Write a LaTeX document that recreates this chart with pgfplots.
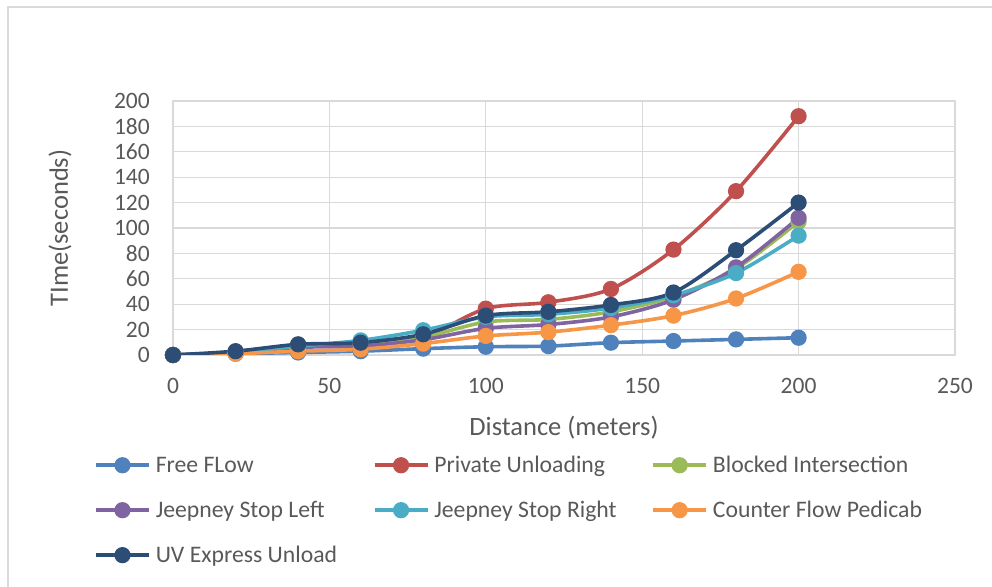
\documentclass[border=0pt]{standalone}
\usepackage{pgfplots}
\usepackage{pgfplotstable}
\pgfplotsset{compat=1.18}
\usepackage{fontspec}
\setmainfont{Carlito}

\definecolor{ffblue}{HTML}{4F81BD}
\definecolor{pured}{HTML}{C0504D}
\definecolor{bigreen}{HTML}{9BBB59}
\definecolor{jlpurple}{HTML}{8064A2}
\definecolor{jrcyan}{HTML}{4BACC6}
\definecolor{cforange}{HTML}{F79646}
\definecolor{uvnavy}{HTML}{2C4D75}
\definecolor{gridgray}{HTML}{D9D9D9}
\definecolor{textgray}{HTML}{595959}

% fixed-width legend entries keep the three columns evenly spaced
\newcommand\lentry[1]{\makebox[212pt][l]{#1}}

% travel time (s) against distance (m) for each traffic scenario
\pgfplotstableread{
x    ff    pu     bi    jl    jr    cf    uv
0    0     0      0     0     0     0     0
20   1     2      2     2     2     1     3
40   2     8      7     6     7     3     8.4
60   3     9      8     7     11.5  4.5   9.7
80   5     14     14    12    19.5  9     16.3
100  6.5   36.5   26    21    30    15    31
120  7     41.5   28    24    32    18    34
140  9.7   52     34    30    37    23.5  39.4
160  11    83     46    43.5  47    31    49.2
180  12.3  129    68    69    64.5  44.5  82.5
200  13.6  188    105   108   94    65.5  120
}\timetable

\begin{document}
\begin{tikzpicture}
\path[use as bounding box] (0pt,0pt) rectangle (992pt,586pt);
\draw[gridgray, line width=1.5pt] (8pt,-2pt) -- (8pt,579pt) -- (994pt,579pt);
\begin{axis}[
  at={(173pt,231pt)}, anchor=south west,
  scale only axis, width=782pt, height=254pt,
  xmin=0, xmax=250, ymin=0, ymax=200,
  xtick={0,50,...,250}, ytick={0,20,...,200},
  major tick length=0pt,
  grid=major,
  major grid style={draw=gridgray, line width=1.3pt},
  axis line style={draw=gridgray, line width=1.3pt},
  /pgf/number format/assume math mode=true,
  tick label style={font=\fontsize{23.5}{27}\selectfont, text=textgray},
  yticklabel style={anchor=east, inner sep=0pt, xshift=-23pt},
  xticklabel style={anchor=north, inner sep=0pt, yshift=-23pt},
  xlabel={Distance (meters)}, ylabel={TIme(seconds)},
  label style={font=\fontsize{26.5}{30}\selectfont, text=textgray},
  xlabel style={at={(axis description cs:0.5,-0.287)}, anchor=center},
  ylabel style={at={(axis description cs:-0.1445,0.5)}, anchor=center},
  legend columns=3,
  legend style={at={(axis description cs:-0.1049,-0.39)}, anchor=north west,
    draw=none, fill=none, font=\fontsize{23.7}{27}\selectfont, text=textgray,
    column sep=0pt, row sep=27pt,
    nodes={inner xsep=5pt, inner ysep=0pt}},
  legend image code/.code={\draw[#1, mark repeat=2, mark phase=2]
    plot coordinates {(0pt,0pt) (26.5pt,0pt) (53pt,0pt)};},
  every axis plot/.append style={line width=3.6pt, smooth, tension=0.5,
    mark=*, mark size=6.3pt, mark options={solid, line width=1pt}},
]
\addplot[ffblue, mark options={fill=ffblue}] table[x=x, y=ff] {\timetable};
\addlegendentry{\lentry{Free FLow}}
\addplot[pured, mark options={fill=pured}] table[x=x, y=pu] {\timetable};
\addlegendentry{\lentry{Private Unloading}}
\addplot[bigreen, mark options={fill=bigreen}] table[x=x, y=bi] {\timetable};
\addlegendentry{\lentry{Blocked Intersection}}
\addplot[jlpurple, mark options={fill=jlpurple}] table[x=x, y=jl] {\timetable};
\addlegendentry{\lentry{Jeepney Stop Left}}
\addplot[jrcyan, mark options={fill=jrcyan}] table[x=x, y=jr] {\timetable};
\addlegendentry{\lentry{Jeepney Stop Right}}
\addplot[cforange, mark options={fill=cforange}] table[x=x, y=cf] {\timetable};
\addlegendentry{\lentry{Counter Flow Pedicab}}
\addplot[uvnavy, mark options={fill=uvnavy}] table[x=x, y=uv] {\timetable};
\addlegendentry{\lentry{UV Express Unload}}
\end{axis}
\end{tikzpicture}
\end{document}
